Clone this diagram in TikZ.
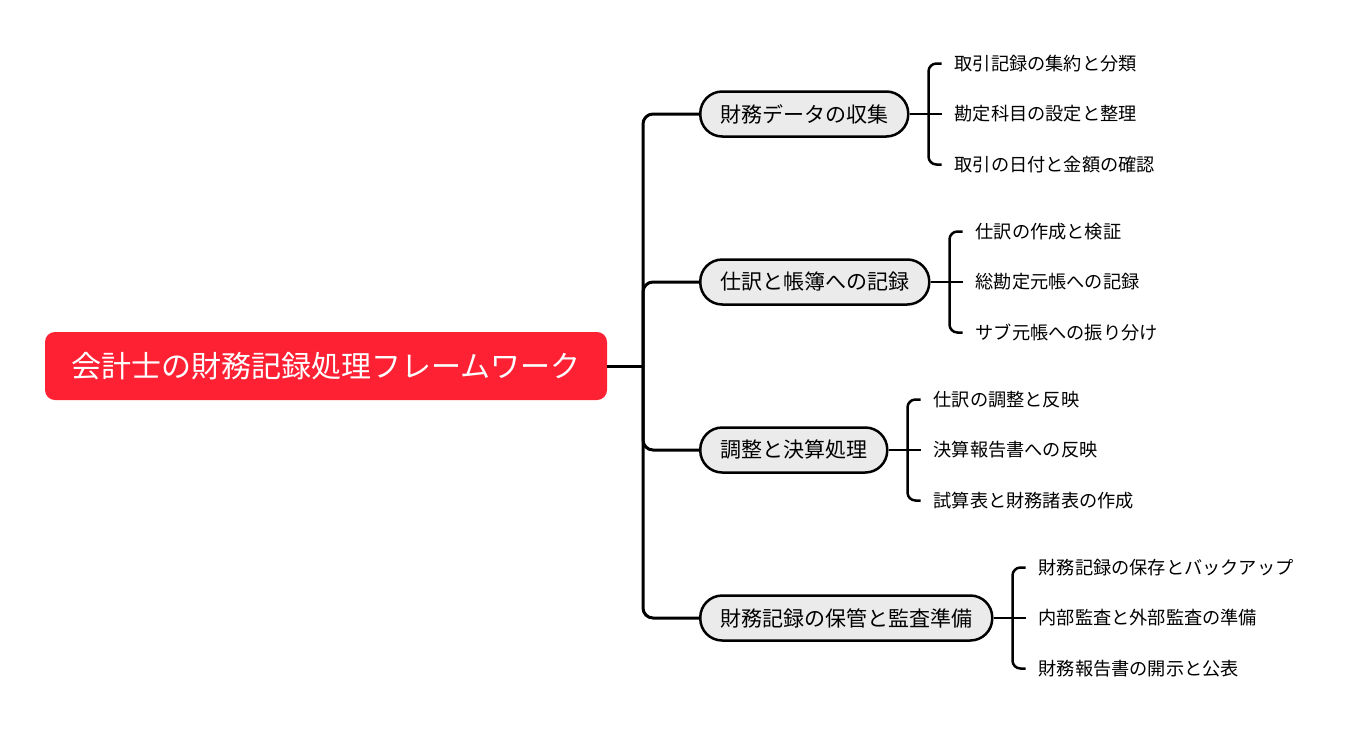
\documentclass[tikz,border=0pt]{standalone}
\usepackage{fontspec}
\setmainfont{Noto Sans CJK JP}
\usetikzlibrary{calc,positioning}
\definecolor{rootred}{RGB}{254,32,51}
\definecolor{branchgray}{RGB}{235,235,235}
\tikzset{
  rootbox/.style={draw=none,fill=rootred,rounded corners=10pt,minimum width=562pt,minimum height=68pt,text=white,font=\fontsize{30}{33}\selectfont,inner sep=0pt},
  branchbox/.style={draw=black,line width=2.5pt,fill=branchgray,rounded corners=22pt,minimum height=45pt,inner xsep=20pt,inner ysep=0pt,font=\fontsize{21}{24}\selectfont,anchor=west},
  leafnode/.style={anchor=west,inner xsep=13pt,inner ysep=2pt,font=\fontsize{18.2}{21}\selectfont},
  trunk/.style={draw=black,line width=3pt,rounded corners=10pt},
  twig/.style={draw=black,line width=2.5pt,rounded corners=8pt},
}
\begin{document}
\begin{tikzpicture}[x=1pt,y=-1pt]
\useasboundingbox (0,0) rectangle (1356,747);
\node[rootbox] (root) at (326,366) {会計士の財務記録処理フレームワーク};
\coordinate (hub) at (643,366);
\node[branchbox] (b1) at (699,114) {財務データの収集};
\node[branchbox] (b2) at (699,282) {仕訳と帳簿への記録};
\node[branchbox] (b3) at (699,450) {調整と決算処理};
\node[branchbox] (b4) at (699,618) {財務記録の保管と監査準備};
\draw[trunk] (root.east) -- (hub);
\draw[trunk] (hub) |- (b1.west);
\draw[trunk] (hub) |- (b2.west);
\draw[trunk] (hub) |- (b3.west);
\draw[trunk] (hub) |- (b4.west);
% branch 1
\coordinate (k1) at ($(b1.east)+(19,0)$);
\node[leafnode] (l11) at ($(k1)+(13,-50.5)$) {取引記録の集約と分類};
\node[leafnode] (l12) at ($(k1)+(13,0)$) {勘定科目の設定と整理};
\node[leafnode] (l13) at ($(k1)+(13,50.5)$) {取引の日付と金額の確認};
\draw[twig] (b1.east) -- (l12.west);
\draw[twig] (k1) |- (l11.west);
\draw[twig] (k1) |- (l13.west);
% branch 2
\coordinate (k2) at ($(b2.east)+(19,0)$);
\node[leafnode] (l21) at ($(k2)+(13,-50.5)$) {仕訳の作成と検証};
\node[leafnode] (l22) at ($(k2)+(13,0)$) {総勘定元帳への記録};
\node[leafnode] (l23) at ($(k2)+(13,50.5)$) {サブ元帳への振り分け};
\draw[twig] (b2.east) -- (l22.west);
\draw[twig] (k2) |- (l21.west);
\draw[twig] (k2) |- (l23.west);
% branch 3
\coordinate (k3) at ($(b3.east)+(19,0)$);
\node[leafnode] (l31) at ($(k3)+(13,-50.5)$) {仕訳の調整と反映};
\node[leafnode] (l32) at ($(k3)+(13,0)$) {決算報告書への反映};
\node[leafnode] (l33) at ($(k3)+(13,50.5)$) {試算表と財務諸表の作成};
\draw[twig] (b3.east) -- (l32.west);
\draw[twig] (k3) |- (l31.west);
\draw[twig] (k3) |- (l33.west);
% branch 4
\coordinate (k4) at ($(b4.east)+(19,0)$);
\node[leafnode] (l41) at ($(k4)+(13,-50.5)$) {財務記録の保存とバックアップ};
\node[leafnode] (l42) at ($(k4)+(13,0)$) {内部監査と外部監査の準備};
\node[leafnode] (l43) at ($(k4)+(13,50.5)$) {財務報告書の開示と公表};
\draw[twig] (b4.east) -- (l42.west);
\draw[twig] (k4) |- (l41.west);
\draw[twig] (k4) |- (l43.west);
\end{tikzpicture}
\end{document}
